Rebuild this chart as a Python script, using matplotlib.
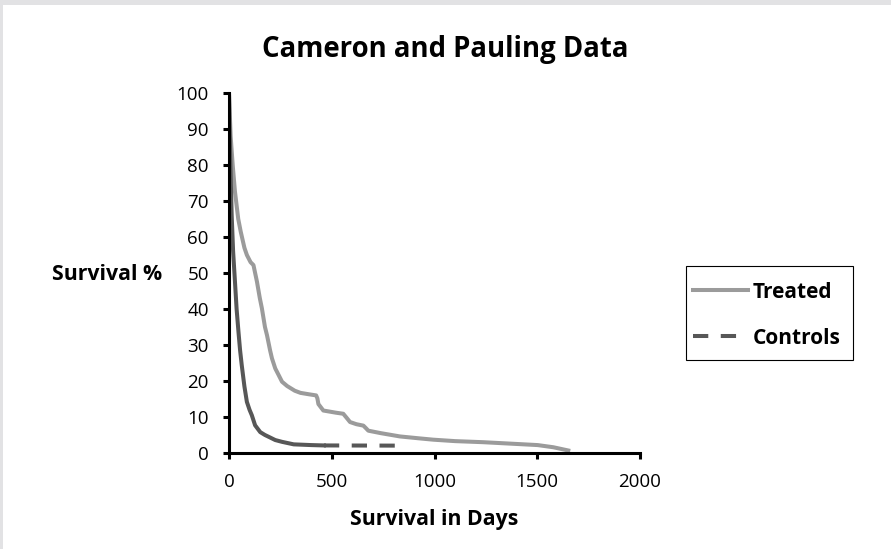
'''
Cameron and Pauling survival curves
'''

import matplotlib
matplotlib.use('Agg')
import matplotlib.pyplot as plt
from matplotlib.patches import Rectangle

plt.rcParams['font.family'] = ['Open Sans', 'DejaVu Sans']
plt.rcParams['lines.scale_dashes'] = False

treated_days = [0, 8, 18, 29, 45, 57, 75, 87, 105, 119, 136, 150, 160, 175, 185,
                200, 209, 225, 242, 258, 283, 320, 348, 390, 424, 430, 435, 459,
                520, 556, 572, 589, 620, 654, 668, 678, 740, 832, 920, 994, 1100,
                1237, 1370, 1502, 1578, 1651]
treated_pct = [100, 88, 80, 72.6, 65, 61.5, 57, 55, 53, 52.2, 47.6, 43, 40.2, 35,
               32.7, 28.5, 26.3, 23.5, 21.6, 19.8, 18.6, 17.3, 16.7, 16.3, 16.0,
               15.2, 13.6, 11.8, 11.2, 10.9, 9.8, 8.6, 8.0, 7.6, 6.8, 6.2, 5.5,
               4.6, 4.1, 3.7, 3.3, 3.0, 2.6, 2.2, 1.6, 0.7]

controls_days = [0, 2, 5, 9, 13, 20, 29, 37, 46, 54, 62, 75, 87, 100, 111, 127,
                 152, 175, 193, 225, 258, 315, 400, 462]
controls_pct = [100, 92, 84.7, 75, 66.1, 56, 47.6, 40, 33.7, 28.5, 24.4, 18.5,
                14.2, 12, 10.5, 7.7, 5.8, 5.0, 4.5, 3.6, 3.1, 2.4, 2.2, 2.1]
controls_tail_days = [462, 808]
controls_tail_pct = [2.1, 2.05]

x_ticks = [0, 500, 1000, 1500, 2000]
y_ticks = list(range(0, 101, 10))

treated_col = '#9b9b9b'
controls_col = '#575757'

fig = plt.figure(figsize=(8.91, 5.49), dpi=100)
# thin grey frame on the top and left edges, as in the screenshot
fig.patches.append(Rectangle((0, 1 - 5 / 549), 1, 5 / 549, transform=fig.transFigure,
                             facecolor='#e2e2e4', edgecolor='none'))
fig.patches.append(Rectangle((0, 0), 3 / 891, 1, transform=fig.transFigure,
                             facecolor='#e2e2e4', edgecolor='none'))
ax = fig.add_axes([229 / 891, 96 / 549, 411 / 891, 360 / 549])
ax.set_facecolor('none')

ax.plot(treated_days, treated_pct, color=treated_col, lw=2.9, label='Treated')
ax.plot(controls_days, controls_pct, color=controls_col, lw=2.9)
ax.plot(controls_tail_days, controls_tail_pct, color=controls_col, lw=2.9,
        dashes=(11, 9), label='Controls')

ax.set_xlim(0, 2000)
ax.set_ylim(0, 100)
ax.set_xticks(x_ticks)
ax.set_yticks(y_ticks)
for side in ['top', 'right']:
    ax.spines[side].set_visible(False)
for side in ['left', 'bottom']:
    ax.spines[side].set_linewidth(2.2)
ax.tick_params(axis='both', length=4.5, width=2.2, labelsize=13.5, colors='black')
ax.tick_params(axis='x', pad=10)
ax.tick_params(axis='y', pad=10)

fig.text(445 / 891, 1 - 49 / 549, 'Cameron and Pauling Data', ha='center',
         va='center', fontsize=19.8, fontweight='bold')
fig.text(52 / 891, 1 - 274 / 549, 'Survival %', ha='left', va='center',
         fontsize=15.3, fontweight='bold')
fig.text(434 / 891, 1 - 520 / 549, 'Survival in Days', ha='center', va='center',
         fontsize=15.3, fontweight='bold')

# legend box drawn separately so its size can match the original
fig.patches.append(Rectangle((686 / 891, 1 - 360 / 549), 167 / 891, 94 / 549,
                             transform=fig.transFigure, facecolor='none',
                             edgecolor='black', lw=0.8, zorder=-1))
leg = ax.legend(loc='center left', bbox_to_anchor=(693 / 891, 1 - 315 / 549),
                bbox_transform=fig.transFigure, frameon=False,
                prop={'weight': 'bold', 'size': 15}, handlelength=2.65,
                handletextpad=0.2, labelspacing=1.2, borderpad=0,
                borderaxespad=0)

fig.savefig('out.png', dpi=100)
